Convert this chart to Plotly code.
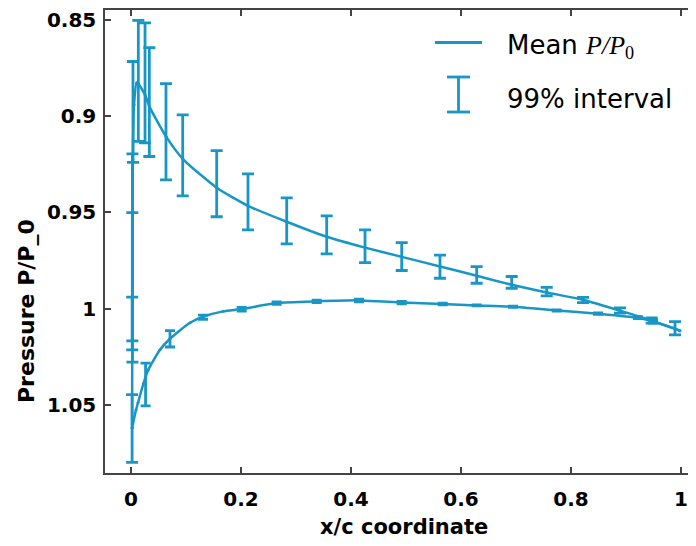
import plotly.graph_objects as go

# ---- data ----
# Mean P/P0 along the upper (suction) surface, leading edge -> trailing edge
upper_x = [0.002, 0.0024, 0.0033, 0.0055, 0.0104, 0.0133, 0.0255, 0.0333, 0.0636, 0.094,
           0.1558, 0.2127, 0.2831, 0.3558, 0.4255, 0.4922, 0.5618, 0.6285, 0.6922, 0.7558,
           0.8218, 0.8891, 0.9255, 0.9467, 0.9891, 0.998]
upper_mean = [1.0619, 0.9954, 0.9227, 0.8941, 0.8827, 0.8832, 0.889, 0.895, 0.9106, 0.9222,
              0.9372, 0.9466, 0.9549, 0.9627, 0.9683, 0.9731, 0.9781, 0.9829, 0.9876, 0.9916,
              0.9954, 1.0011, 1.0042, 1.0063, 1.0104, 1.0114]

# Mean P/P0 along the lower (pressure) surface, leading edge -> trailing edge
lower_x = [0.002, 0.0091, 0.0127, 0.0224, 0.0315, 0.0527, 0.0709, 0.1073, 0.1309, 0.1673,
           0.2013, 0.2649, 0.3376, 0.4145, 0.4922, 0.5667, 0.6285, 0.6945, 0.774, 0.8491,
           0.9218, 0.9491, 0.998]
lower_mean = [1.0619, 1.0526, 1.0489, 1.039, 1.0317, 1.0213, 1.0156, 1.0073, 1.0042, 1.0014,
              1.0002, 0.9971, 0.9962, 0.9957, 0.9968, 0.9976, 0.9983, 0.999, 1.0009, 1.0026,
              1.0047, 1.0066, 1.0114]

# 99% intervals, upper surface stations (x, mean, low, high)
ub_x = [0.002, 0.0022, 0.0024, 0.0026, 0.0036, 0.0133, 0.0255, 0.0333, 0.0636, 0.094,
        0.1558, 0.2127, 0.2831, 0.3558, 0.4255, 0.4922, 0.5618, 0.6285, 0.6922, 0.7558,
        0.8218, 0.8891, 0.9467, 0.9891]
ub_mean = [1.0619, 1.005, 0.985, 0.97, 0.9, 0.8832, 0.889, 0.895, 0.9106, 0.9222,
           0.9372, 0.9466, 0.9549, 0.9627, 0.9683, 0.9731, 0.9781, 0.9829, 0.9876, 0.9916,
           0.9954, 1.0011, 1.0063, 1.0104]
ub_lo = [1.0446, 0.9940, 0.9501, 0.9196, 0.8717, 0.8504, 0.8516, 0.8645, 0.8832, 0.8994,
         0.918, 0.93, 0.9425, 0.9518, 0.9591, 0.9657, 0.9722, 0.9782, 0.9833, 0.9889,
         0.9941, 0.9996, 1.0048, 1.0067]
ub_hi = [1.0798, 1.0214, 1.0167, 1.0277, 0.9241, 0.9132, 0.9139, 0.921, 0.9331, 0.9414,
         0.9523, 0.9591, 0.9664, 0.9716, 0.9761, 0.9802, 0.9842, 0.9868, 0.9894, 0.9934,
         0.9969, 1.0023, 1.0075, 1.0136]

# 99% intervals, lower surface stations
lb_x = [0.0265, 0.0709, 0.1309, 0.2013, 0.2649, 0.3376, 0.4145, 0.4922, 0.5667, 0.6285,
        0.6945, 0.774, 0.8491, 0.9218, 0.9491]
lb_mean = [1.037, 1.0156, 1.0042, 1.0002, 0.9971, 0.9962, 0.9957, 0.9968, 0.9976, 0.9983,
           0.999, 1.0009, 1.0026, 1.0047, 1.0066]
lb_lo = [1.0283, 1.0114, 1.0034, 0.9993, 0.9965, 0.9956, 0.995, 0.9962, 0.9972, 0.998,
         0.9987, 1.0006, 1.0022, 1.0042, 1.006]
lb_hi = [1.0505, 1.0199, 1.0055, 1.0012, 0.9978, 0.9969, 0.9964, 0.9975, 0.998, 0.9986,
         0.9993, 1.0012, 1.003, 1.0052, 1.0075]

x_ticks = [0, 0.2, 0.4, 0.6, 0.8, 1]
x_tick_text = ["0", "0.2", "0.4", "0.6", "0.8", "1"]
y_ticks = [0.85, 0.9, 0.95, 1.0, 1.05]
y_tick_text = ["0.85", "0.9", "0.95", "1", "1.05"]

# ---- styling ----
BLUE = "#1896c6"
FRAME = "#444444"
TICKFONT = dict(family="DejaVu Sans", size=20, color="black")

fig = go.Figure()

for xs, ys in ((upper_x, upper_mean), (lower_x, lower_mean)):
    fig.add_trace(go.Scatter(
        x=xs, y=ys, mode="lines+markers",
        line=dict(color=BLUE, width=2.5, shape="spline", smoothing=0.6),
        marker=dict(color=BLUE, size=3),
        showlegend=False, hoverinfo="skip"))

for xs, m, lo, hi, w in ((ub_x, ub_mean, ub_lo, ub_hi, 6), (lb_x, lb_mean, lb_lo, lb_hi, 5)):
    fig.add_trace(go.Scatter(
        x=xs, y=m, mode="markers",
        marker=dict(color=BLUE, size=1),
        error_y=dict(type="data", symmetric=False,
                     array=[h - v for h, v in zip(hi, m)],
                     arrayminus=[v - l for v, l in zip(m, lo)],
                     color=BLUE, thickness=2.8, width=w),
        showlegend=False, hoverinfo="skip"))

# page is shown with an 8px body margin: screen px = figure px + 8
OFF = 8
W, H = 696, 546
L = 105 - OFF            # left axis at screen x = 105
T = 10 - OFF             # top frame at screen y = 10
B = H - (473 - OFF)      # bottom axis at screen y = 473
R = 0
pw, ph = W - L - R, H - T - B

def px(sx):
    return (sx - OFF - L) / pw

def py(sy):
    return 1 - (sy - OFF - T) / ph

# manual legend
shapes = [
    dict(type="line", xref="paper", yref="paper", x0=px(435), x1=px(482), y0=py(42.5), y1=py(42.5),
         line=dict(color=BLUE, width=2.8)),
    dict(type="line", xref="paper", yref="paper", x0=px(458.5), x1=px(458.5), y0=py(77), y1=py(112),
         line=dict(color=BLUE, width=2.8)),
    dict(type="line", xref="paper", yref="paper", x0=px(447), x1=px(470), y0=py(77), y1=py(77),
         line=dict(color=BLUE, width=2.8)),
    dict(type="line", xref="paper", yref="paper", x0=px(447), x1=px(470), y0=py(112), y1=py(112),
         line=dict(color=BLUE, width=2.8)),
]

annotations = [
    dict(xref="paper", yref="paper", x=px(505), y=py(46), xanchor="left", yanchor="middle",
         showarrow=False, font=dict(family="DejaVu Sans", size=26, color="black"),
         text='Mean <span style="font-family:\'Liberation Serif\'"><i>P/P</i><sub>0</sub></span>'),
    dict(xref="paper", yref="paper", x=px(505), y=py(99), xanchor="left", yanchor="middle",
         showarrow=False, font=dict(family="DejaVu Sans", size=26, color="black"),
         text="99% interval"),
    dict(xref="paper", yref="paper", x=px(26), y=py(311), xanchor="center", yanchor="middle",
         showarrow=False, textangle=-90,
         font=dict(family="DejaVu Sans", size=22, color="black"),
         text="<b>Pressure P/P_0</b>"),
    dict(xref="paper", yref="paper", x=px(404), y=py(527), xanchor="center", yanchor="middle",
         showarrow=False, font=dict(family="DejaVu Sans", size=21, color="black"),
         text="<b>x/c coordinate</b>"),
]

fig.update_layout(
    width=W, height=H,
    margin=dict(l=L, r=R, t=T, b=B, pad=0),
    paper_bgcolor="white", plot_bgcolor="white",
    shapes=shapes, annotations=annotations,
    showlegend=False,
)
fig.update_xaxes(
    range=[(105 - 131) / 550, (W + OFF - 131) / 550],
    tickvals=x_ticks, ticktext=["<b>%s</b>" % t for t in x_tick_text],
    tickfont=TICKFONT, ticks="inside", ticklen=6, tickcolor=FRAME, tickwidth=1.5,
    showline=True, linecolor=FRAME, linewidth=1.5, mirror="ticks",
    showgrid=False, zeroline=False, ticklabelstandoff=7, ticklabeloverflow="allow",
)
fig.update_yaxes(
    range=[1.05 + (473 - 405) / 1926, 0.85 - (19.7 - 10) / 1926],
    tickvals=y_ticks, ticktext=["<b>%s</b>" % t for t in y_tick_text],
    tickfont=TICKFONT, ticks="inside", ticklen=6, tickcolor=FRAME, tickwidth=1.5,
    showline=True, linecolor=FRAME, linewidth=1.5, mirror=False,
    showgrid=False, zeroline=False, ticklabelstandoff=3, ticklabeloverflow="allow",
)

fig.write_html("out.html")
